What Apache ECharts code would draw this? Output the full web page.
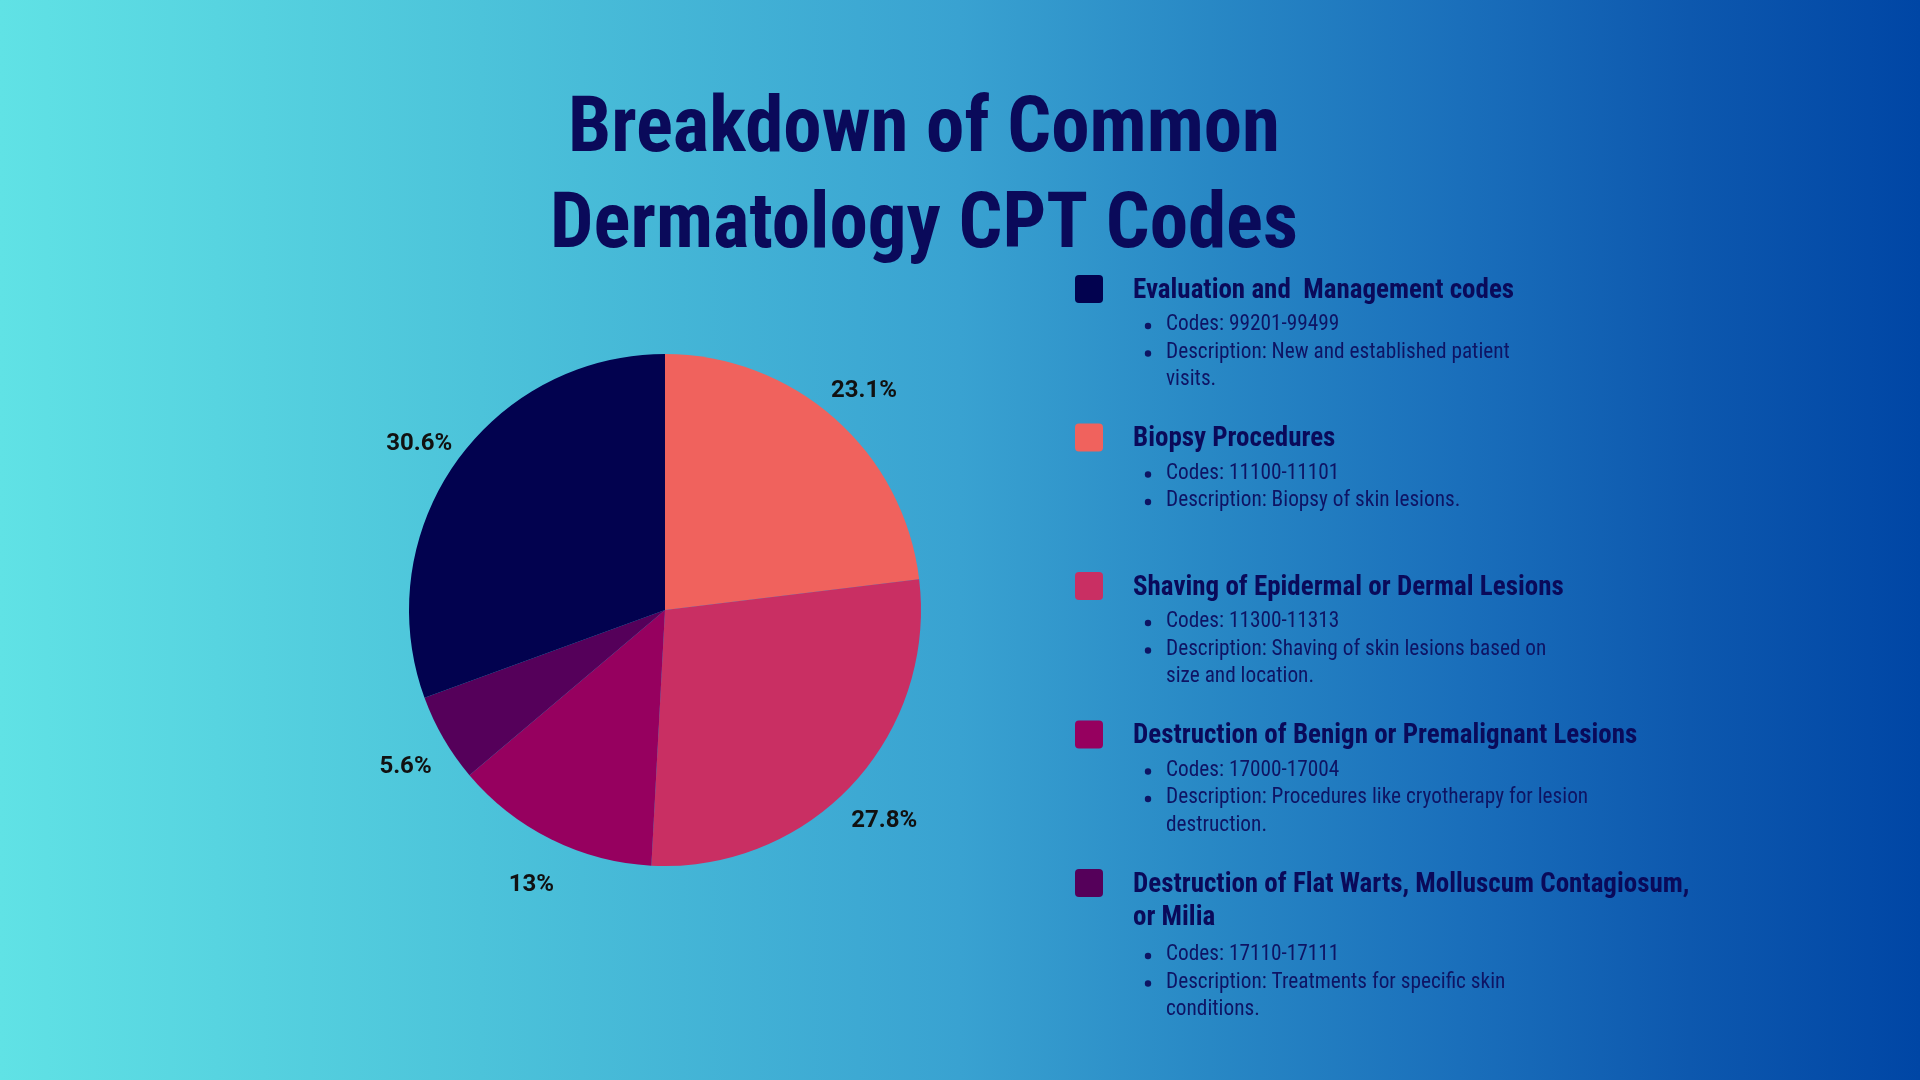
<!DOCTYPE html>
<html><head><meta charset="utf-8">
<script src="https://cdn.jsdelivr.net/npm/echarts@6/dist/echarts.min.js"></script>
<style>html,body{margin:0;padding:0;width:1920px;height:1080px;overflow:hidden}#c{width:1920px;height:1080px}</style>
</head><body><div id="c"></div>
<script>
// ---- data ----
const titleLines = ['Breakdown of Common', 'Dermatology CPT Codes'];
const categories = [
  'Evaluation and  Management codes',
  'Biopsy Procedures',
  'Shaving of Epidermal or Dermal Lesions',
  'Destruction of Benign or Premalignant Lesions',
  'Destruction of Flat Warts, Molluscum Contagiosum,\nor Milia'
];
const shares = [30.6, 23.1, 27.8, 13, 5.6];
const codes = ['Codes: 99201-99499', 'Codes: 11100-11101', 'Codes: 11300-11313', 'Codes: 17000-17004', 'Codes: 17110-17111'];
const descriptions = [
  'Description: New and established patient\nvisits.',
  'Description: Biopsy of skin lesions.',
  'Description: Shaving of skin lesions based on\nsize and location.',
  'Description: Procedures like cryotherapy for lesion\ndestruction.',
  'Description: Treatments for specific skin\nconditions.'
];
const colors = ['#02024f', '#f0625d', '#c92f63', '#96005f', '#55005a'];
const pieOrder = [1, 2, 3, 4, 0]; // clockwise from 12 o'clock

// ---- styles ----
const NARROW = '"Liberation Sans Narrow", "Roboto Condensed", "Roboto", sans-serif';
const navy = '#0a0a5a';
const textNavy = '#0e1464';

const pieData = pieOrder.map(i => ({ name: categories[i], value: shares[i], itemStyle: { color: colors[i] } }));
const labelData = pieOrder.map(i => ({ name: categories[i], value: shares[i] }));

const graphics = [];
titleLines.forEach((t, k) => {
  graphics.push({
    type: 'text', x: 924, y: 132 + k * 96,
    style: { text: t, font: 'bold 77px ' + NARROW, fill: navy, align: 'center', verticalAlign: 'middle' }
  });
});

categories.forEach((cat, i) => {
  const y0 = 289 + i * 148.5;
  graphics.push({
    type: 'rect', shape: { x: 1075, y: y0 - 14, width: 28, height: 28, r: 4 },
    style: { fill: colors[i] }
  });
  const headLines = cat.split('\n');
  headLines.forEach((h, k) => {
    graphics.push({
      type: 'text', x: 1133, y: y0 + 2 + k * 33,
      style: { text: h, font: 'bold 27px ' + NARROW, fill: navy, align: 'left', verticalAlign: 'middle' }
    });
  });
  let y = y0 + (headLines.length - 1) * 36 + 36;
  [codes[i], descriptions[i]].forEach(b => {
    b.split('\n').forEach((line, k) => {
      if (k === 0) {
        graphics.push({ type: 'circle', shape: { cx: 1148, cy: y + 1, r: 3.2 }, style: { fill: textNavy } });
      }
      graphics.push({
        type: 'text', x: 1166, y: y,
        style: { text: line, font: '21.3px ' + NARROW, fill: textNavy, align: 'left', verticalAlign: 'middle' }
      });
      y += 27.5;
    });
  });
});

const chart = echarts.init(document.getElementById('c'));
chart.setOption({
  backgroundColor: new echarts.graphic.LinearGradient(0, 0, 1, 0, [
    { offset: 0, color: '#60e2e5' },
    { offset: 0.25, color: '#4cc3da' },
    { offset: 0.5, color: '#39a2d1' },
    { offset: 0.63, color: '#2888c5' },
    { offset: 0.76, color: '#1a6fbb' },
    { offset: 0.88, color: '#0d58ae' },
    { offset: 1, color: '#0046a5' }
  ]),
  animation: false,
  series: [
    {
      type: 'pie', center: [665, 610], radius: [0, 256], startAngle: 90, clockwise: true,
      data: pieData, label: { show: false }, labelLine: { show: false },
      itemStyle: { borderWidth: 0 }, emphasis: { disabled: true }
    },
    {
      type: 'pie', center: [665, 610], radius: [0, 594], startAngle: 90, clockwise: true, silent: true,
      data: labelData, itemStyle: { color: 'rgba(0,0,0,0)', borderWidth: 0 },
      label: { show: true, position: 'inside', formatter: '{c}%', color: '#111', fontFamily: 'Roboto', fontWeight: 'bold', fontSize: 24, offset: [0, 6] },
      labelLine: { show: false }, emphasis: { disabled: true }
    }
  ],
  graphic: graphics
});
</script></body></html>
